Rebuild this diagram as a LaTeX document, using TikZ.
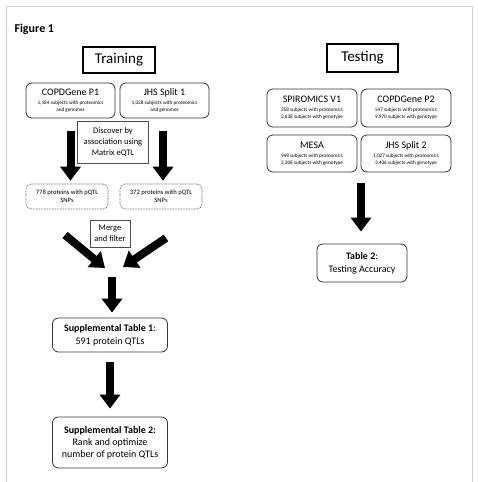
\documentclass[tikz,border=0pt]{standalone}
\usepackage{fontspec}
\setmainfont{Carlito}
\usetikzlibrary{arrows.meta,calc}
\newcommand{\ttlfont}{\fontsize{10}{11}\selectfont}
\begin{document}
\begin{tikzpicture}[x=1pt,y=-1pt,
  rbox/.style={draw=black!80, line width=0.8pt, rounded corners=6pt, align=center, inner sep=0pt},
  dsbox/.style={rbox, font=\fontsize{5.2}{7}\selectfont},
  dbox/.style={draw=black!60, line width=0.6pt, dash pattern=on 0.9pt off 0.7pt, rounded corners=5pt, align=center, inner sep=0pt, font=\fontsize{6.6}{8}\selectfont},
  sbox/.style={draw=black!70, line width=0.7pt, align=center, inner sep=0pt, font=\fontsize{8.5}{11}\selectfont},
  hbox/.style={draw=black, line width=2pt, inner sep=0pt, font=\fontsize{15}{18}\selectfont},
  bigarrow/.style={line width=8pt, -{Triangle[length=14pt,width=20pt]}},
]
\useasboundingbox (0,0) rectangle (478,482);
\draw[black!18, line width=0.9pt] (6,482) -- (6,6) -- (472,6) -- (472,482);

\node[anchor=west, font=\fontsize{12}{14}\selectfont\bfseries] (fig) at (11,29) {Figure 1};

\node[hbox, minimum width=72pt, minimum height=26pt] (train) at (119,60) {Training};
\node[hbox, minimum width=71pt, minimum height=28pt] (test) at (362.5,58) {Testing};

\node[dsbox, minimum width=89pt, minimum height=35pt] (cp1) at (70.5,100.5)
  {{\ttlfont COPDGene P1}\\[2pt] 1,184 subjects with proteomics\\ and genomes};
\node[dsbox, minimum width=89pt, minimum height=35pt] (jhs1) at (164.5,100.5)
  {{\ttlfont JHS Split 1}\\[2pt] 1,028 subjects with proteomics\\ and genomes};

\node[sbox, minimum width=71pt, minimum height=42pt] (disc) at (113,142)
  {Discover by\\ association using\\ Matrix eQTL};

\node[dbox, minimum width=82pt, minimum height=25pt] (p778) at (67,196.5)
  {778 proteins with pQTL\\ SNPs};
\node[dbox, minimum width=82pt, minimum height=25pt] (p372) at (161,196.5)
  {372 proteins with pQTL\\ SNPs};

\node[sbox, minimum width=40pt, minimum height=27pt] (merge) at (110,233.5)
  {Merge\\ and filter};

\node[rbox, minimum width=115pt, minimum height=34pt, font=\fontsize{10}{13}\selectfont] (s1) at (110,335)
  {\textbf{Supplemental Table 1}:\\ 591 protein QTLs};
\node[rbox, minimum width=115pt, minimum height=51pt, font=\fontsize{10}{11.8}\selectfont] (s2) at (110,442.5)
  {\textbf{Supplemental Table 2:}\\ Rank and optimize\\ number of protein QTLs};

\node[dsbox, minimum width=90pt, minimum height=38pt] (spiro) at (312,108)
  {{\ttlfont SPIROMICS V1}\\[2pt] 258 subjects with proteomics\\ 2,638 subjects with genotype};
\node[dsbox, minimum width=90pt, minimum height=38pt] (cp2) at (406,108)
  {{\ttlfont COPDGene P2}\\[2pt] 547 subjects with proteomics\\ 9,970 subjects with genotype};
\node[dsbox, minimum width=90pt, minimum height=37pt] (mesa) at (312,153.5)
  {{\ttlfont MESA}\\[2pt] 948 subjects with proteomics\\ 5,308 subjects with genotype};
\node[dsbox, minimum width=90pt, minimum height=37pt] (jhs2) at (406,153.5)
  {{\ttlfont JHS Split 2}\\[2pt] 1,027 subjects with proteomics\\ 3,406 subjects with genotype};

\node[rbox, minimum width=90pt, minimum height=38pt, font=\fontsize{10}{13}\selectfont] (t2) at (362,263)
  {\textbf{Table 2}:\\ Testing Accuracy};

% arrows
\draw[bigarrow, shorten <=13pt, shorten >=3pt] (cp1.south) -- (cp1.south |- p778.north);
\draw[bigarrow, shorten <=13pt, shorten >=3pt] (163,118) coordinate (j1s) -- (j1s |- p372.north);

\coordinate (d1s) at (65,235);
\coordinate (d1e) at (105,268);
\coordinate (d2s) at (166,238);
\coordinate (d2e) at (123,267);
\draw[bigarrow] (d1s) -- (d1e);
\draw[bigarrow] (d2s) -- (d2e);

\coordinate (m1) at (112,277);
\draw[bigarrow, shorten >=5pt] (m1) -- (m1 |- s1.north);

\draw[bigarrow, shorten <=10pt, shorten >=8pt] (s1.south) -- (s2.north);

\coordinate (tb) at (361,172);
\draw[bigarrow, shorten <=11pt, shorten >=12pt] (tb) -- (tb |- t2.north);
\end{tikzpicture}
\end{document}
